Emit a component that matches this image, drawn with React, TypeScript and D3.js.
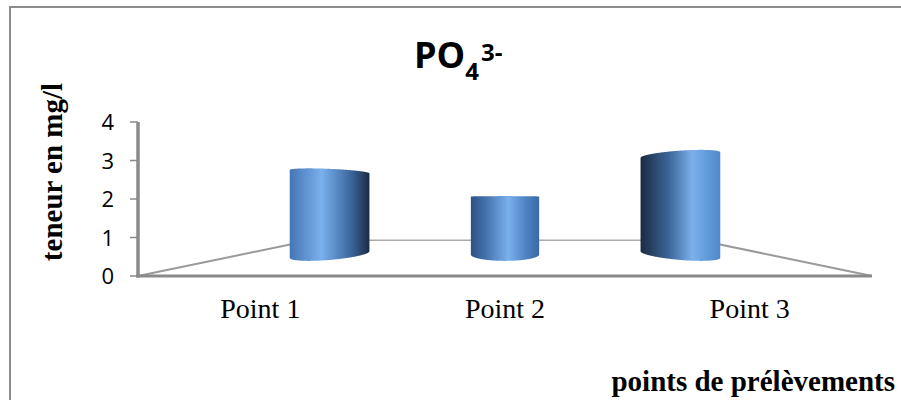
import React from 'react';
import * as d3 from 'd3';

// ---- data ----
const categories: string[] = ['Point 1', 'Point 2', 'Point 3'];
const values: number[] = [3.0, 2.1, 3.6];
const yTicks: number[] = [0, 1, 2, 3, 4];
const titleMain = 'PO';
const titleSub = '4';
const titleSup = '3-';
const yTitle = 'teneur en mg/l';
const xTitle = 'points de prélèvements';

// ---- layout ----
const W = 901;
const H = 400;
const FRONT_LEFT = 138;
const FRONT_RIGHT = 872;
const BASE = 276;
const TOP = 122;
const VP = { x: 505, y: 200 }; // vanishing point of the floor
const K = 0.887; // foreshortening per unit of depth
const BAR_Z = 0.467; // depth of the cylinder axes
const BAR_RZ = 0.187; // cylinder radius along depth

const xScale = d3.scaleBand<string>().domain(categories).range([FRONT_LEFT, FRONT_RIGHT]);
const yScale = d3.scaleLinear().domain([0, 4]).range([BASE, TOP]);

function project(xf: number, yf: number, z: number): [number, number] {
  const s = 1 / (1 + K * z);
  return [VP.x + (xf - VP.x) * s, VP.y + (yf - VP.y) * s];
}

// shading across the visible face, depending on which side of the eye the bar sits
const SHADES: { offset: number; color: string }[][] = [
  [
    { offset: 0, color: '#4575b5' },
    { offset: 0.4, color: '#7ab0ec' },
    { offset: 0.75, color: '#3e6aa3' },
    { offset: 1, color: '#1b2c45' },
  ],
  [
    { offset: 0, color: '#2d5284' },
    { offset: 0.22, color: '#4472ad' },
    { offset: 0.55, color: '#7ab0ec' },
    { offset: 0.8, color: '#4e84c4' },
    { offset: 1, color: '#3a69a6' },
  ],
  [
    { offset: 0, color: '#1b2b42' },
    { offset: 0.35, color: '#3b6597' },
    { offset: 0.65, color: '#7ab0ec' },
    { offset: 1, color: '#4e88c9' },
  ],
];

function cylinder(cat: string, v: number) {
  const bw = xScale.bandwidth();
  const xc = (xScale(cat) as number) + bw / 2;
  const r = bw * 0.196;
  const N = 360;
  const ring = (yf: number) =>
    d3.range(N).map((i) => {
      const th = (i / N) * 2 * Math.PI;
      return project(xc + r * Math.cos(th), yf, BAR_Z + BAR_RZ * Math.sin(th));
    });
  const bottom = ring(yScale(0));
  const top = ring(yScale(v));
  let iL = 0;
  let iR = 0;
  bottom.forEach((p, i) => {
    if (p[0] < bottom[iL][0]) iL = i;
    if (p[0] > bottom[iR][0]) iR = i;
  });
  const idx: number[] = [];
  for (let i = iL; ; i = (i + 1) % N) {
    idx.push(i);
    if (i === iR) break;
  }
  const pts = [...idx.map((i) => top[i]), ...idx.slice().reverse().map((i) => bottom[i])];
  const d = d3.line()(pts) + 'Z';
  const capVisible = yScale(v) > VP.y;
  const cap = capVisible ? d3.line()(top) + 'Z' : null;
  const t = Math.round((xc - VP.x) / bw);
  return { d, cap, x1: bottom[iL][0], x2: bottom[iR][0], shade: SHADES[t + 1] };
}

export default function App() {
  const backZ = 1;
  const [blx, bly] = project(FRONT_LEFT, BASE, backZ);
  const [brx, bry] = project(FRONT_RIGHT, BASE, backZ);
  const bars = categories.map((c, i) => cylinder(c, values[i]));
  const serif = "'Liberation Serif', 'Times New Roman', serif";
  const sans = "'Open Sans', 'Noto Sans', sans-serif";

  return (
    <svg
      width={W}
      height={H}
      viewBox={`0 0 ${W} ${H}`}
      style={{ position: 'absolute', left: 0, top: 0, background: '#fff' }}
    >
      <defs>
        {bars.map((b, i) => (
          <linearGradient
            key={i}
            id={`cyl-${i}`}
            gradientUnits="userSpaceOnUse"
            x1={b.x1}
            x2={b.x2}
            y1={0}
            y2={0}
          >
            {b.shade.map((s, j) => (
              <stop key={j} offset={s.offset} stopColor={s.color} />
            ))}
          </linearGradient>
        ))}
      </defs>

      {/* chart frame */}
      <rect x={10} y={7} width={W} height={H} fill="none" stroke="#8c8c8c" strokeWidth={2} />

      {/* floor outline */}
      <line x1={blx} y1={bly} x2={brx} y2={bry} stroke="#ababab" strokeWidth={1.6} />
      <line x1={FRONT_LEFT} y1={BASE} x2={blx} y2={bly} stroke="#9a9a9a" strokeWidth={2} />
      <line x1={FRONT_RIGHT} y1={BASE} x2={brx} y2={bry} stroke="#9a9a9a" strokeWidth={2} />

      {/* cylinders */}
      {bars.map((b, i) => (
        <g key={i}>
          <path d={b.d} fill={`url(#cyl-${i})`} />
          {b.cap && <path d={b.cap} fill="#6f9fd8" />}
        </g>
      ))}

      {/* front edge and value axis */}
      <line x1={FRONT_LEFT - 2} y1={BASE} x2={FRONT_RIGHT} y2={BASE} stroke="#8a8a8a" strokeWidth={3} />
      <line x1={FRONT_LEFT} y1={TOP} x2={FRONT_LEFT} y2={BASE + 1.5} stroke="#8a8a8a" strokeWidth={3.5} />
      {yTicks.map((t) => (
        <g key={t}>
          <line
            x1={FRONT_LEFT - 8}
            x2={FRONT_LEFT}
            y1={yScale(t)}
            y2={yScale(t)}
            stroke="#8a8a8a"
            strokeWidth={1.5}
          />
          <text
            x={114}
            y={yScale(t) + 8}
            textAnchor="end"
            fontFamily={sans}
            fontSize={22}
            fill="#000"
          >
            {t}
          </text>
        </g>
      ))}

      {/* category labels */}
      {categories.map((c) => (
        <text
          key={c}
          x={(xScale(c) as number) + xScale.bandwidth() / 2}
          y={318}
          textAnchor="middle"
          fontFamily={serif}
          fontSize={28}
          fill="#000"
        >
          {c}
        </text>
      ))}

      {/* title */}
      <text x={414} y={68} fontFamily={sans} fontWeight="bold" fontSize={36} fill="#000">
        {titleMain}
        <tspan fontSize={24} dy={12}>
          {titleSub}
        </tspan>
        <tspan fontSize={24} dx={2} dy={-19}>
          {titleSup}
        </tspan>
      </text>

      {/* axis titles */}
      <text
        transform="translate(62,172) rotate(-90)"
        textAnchor="middle"
        fontFamily={serif}
        fontWeight="bold"
        fontSize={29}
        fill="#000"
      >
        {yTitle}
      </text>
      <text
        x={895}
        y={391}
        textAnchor="end"
        fontFamily={serif}
        fontWeight="bold"
        fontSize={29}
        fill="#000"
      >
        {xTitle}
      </text>
    </svg>
  );
}
